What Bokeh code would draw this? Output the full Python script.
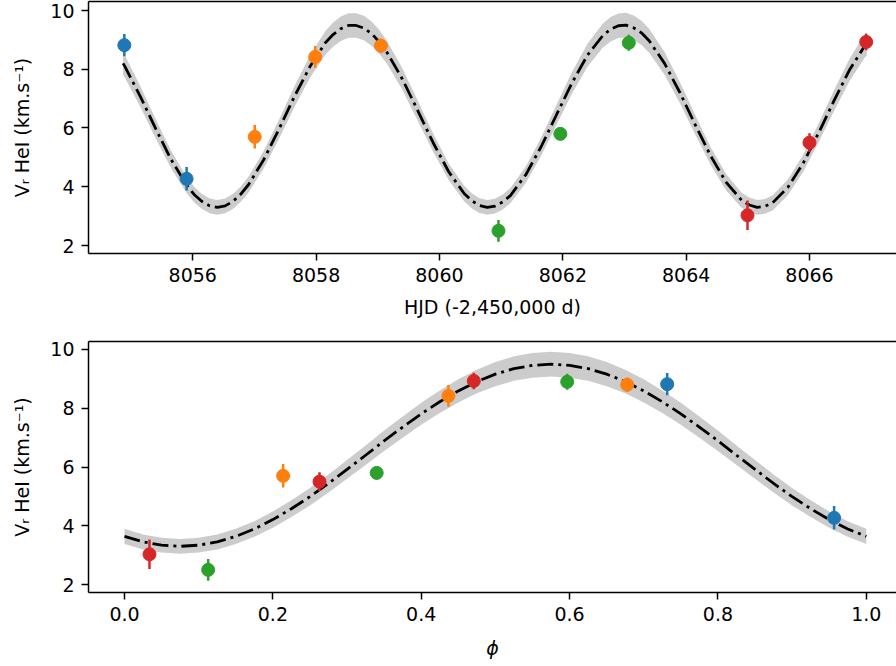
from bokeh.plotting import figure
from bokeh.layouts import column
from bokeh.models import ColumnDataSource, Range1d, FixedTicker, LinearAxis, NumeralTickFormatter
from bokeh.embed import file_html
from bokeh.resources import INLINE

hjd = [8054.89, 8055.90, 8057.005, 8057.985, 8059.05, 8060.957, 8061.96, 8063.07, 8064.995, 8066.00, 8066.92]
phase = [0.7316, 0.9566, 0.2139, 0.4367, 0.6777, 0.1128, 0.340, 0.5968, 0.0337, 0.2629, 0.4709]
vr = [8.82, 4.27, 5.70, 8.42, 8.80, 2.50, 5.80, 8.90, 3.03, 5.50, 8.93]
vr_err = [0.38, 0.40, 0.40, 0.37, 0.25, 0.37, 0.22, 0.27, 0.50, 0.32, 0.28]
night = ["n1", "n1", "n2", "n2", "n2", "n3", "n3", "n3", "n4", "n4", "n4"]
night_colors = {"n1": "#1f77b4", "n2": "#ff7f0e", "n3": "#2ca02c", "n4": "#d62728"}

# ---- orbital model curve ----
model_hjd = [8054.87, 8054.90, 8055.15, 8055.40, 8055.65, 8055.90, 8056.025, 8056.15, 8056.275, 8056.40,
             8056.525, 8056.65, 8056.775, 8056.90, 8057.15, 8057.40, 8057.65, 8057.90, 8058.15, 8058.275,
             8058.40, 8058.525, 8058.65, 8058.775, 8058.90, 8059.025, 8059.15, 8059.40, 8059.65, 8059.90,
             8060.15, 8060.40, 8060.525, 8060.65, 8060.775, 8060.90, 8061.025, 8061.15, 8061.40, 8061.65,
             8061.90, 8062.15, 8062.40, 8062.65, 8062.775, 8062.90, 8063.025, 8063.15, 8063.275, 8063.40,
             8063.65, 8063.90, 8064.15, 8064.40, 8064.65, 8064.90, 8065.025, 8065.15, 8065.275, 8065.40,
             8065.65, 8065.90, 8066.15, 8066.40, 8066.65, 8066.90, 8066.93]
model_vr_hjd = [8.20, 8.09, 7.07, 5.97, 4.92, 4.06, 3.73, 3.50, 3.35, 3.30,
                3.35, 3.50, 3.74, 4.06, 4.92, 5.97, 7.08, 8.09, 8.90, 9.18,
                9.38, 9.49, 9.49, 9.40, 9.21, 8.93, 8.57, 7.66, 6.58, 5.49,
                4.51, 3.77, 3.52, 3.36, 3.30, 3.34, 3.48, 3.70, 4.41, 5.37,
                6.46, 7.54, 8.48, 9.15, 9.36, 9.48, 9.50, 9.41, 9.24, 8.97,
                8.20, 7.20, 6.10, 5.04, 4.15, 3.54, 3.38, 3.30, 3.33, 3.45,
                3.98, 4.81, 5.84, 6.94, 7.98, 8.81, 8.86]
model_phase = [0.000, 0.025, 0.050, 0.075, 0.100, 0.125, 0.150, 0.175, 0.200, 0.225,
               0.250, 0.275, 0.300, 0.325, 0.350, 0.375, 0.400, 0.425, 0.450, 0.475,
               0.500, 0.525, 0.550, 0.575, 0.600, 0.625, 0.650, 0.675, 0.700, 0.725,
               0.750, 0.775, 0.800, 0.825, 0.850, 0.875, 0.900, 0.925, 0.950, 0.975, 1.000]
model_vr_phase = [3.64, 3.45, 3.34, 3.30, 3.34, 3.45, 3.64, 3.89, 4.21, 4.58,
                  4.99, 5.44, 5.92, 6.40, 6.89, 7.36, 7.81, 8.22, 8.59, 8.91,
                  9.16, 9.35, 9.46, 9.50, 9.46, 9.35, 9.16, 8.91, 8.59, 8.22,
                  7.81, 7.36, 6.89, 6.40, 5.92, 5.44, 4.99, 4.58, 4.21, 3.89, 3.64]
# uncertainty band half-width (about 0.25 at minimum, 0.42 at maximum)
band_hw_mid = 0.335
band_hw_slope = 0.0274
band_ref = 6.4

y_ticks = [2, 4, 6, 8, 10]
hjd_ticks = [8056, 8058, 8060, 8062, 8064, 8066]
phase_ticks = [0.0, 0.2, 0.4, 0.6, 0.8, 1.0]

FONT = "DejaVu Sans"
FS = "19px"


def band(vals):
    lo = [v - (band_hw_mid + band_hw_slope * (v - band_ref)) for v in vals]
    hi = [v + (band_hw_mid + band_hw_slope * (v - band_ref)) for v in vals]
    return lo, hi


def make_fig(xr, yr, height, mbt, mbb, xlabel, xticks, label_standoff, italic_label=False, fmt=None):
    p = figure(width=896, height=height, x_range=Range1d(*xr), y_range=Range1d(*yr),
               output_backend="svg", toolbar_location=None,
               min_border_left=88, min_border_right=0, min_border_top=mbt, min_border_bottom=mbb)
    p.grid.visible = False
    p.outline_line_color = None
    p.background_fill_color = "white"
    p.border_fill_color = "white"
    p.xaxis.ticker = FixedTicker(ticks=xticks)
    p.yaxis.ticker = FixedTicker(ticks=y_ticks)
    if fmt is not None:
        p.xaxis.formatter = fmt
    for ax in (p.xaxis[0], p.yaxis[0]):
        ax.axis_line_color = "black"
        ax.axis_line_width = 1.5
        ax.major_tick_line_color = "black"
        ax.major_tick_line_width = 1.5
        ax.major_tick_out = 7
        ax.major_tick_in = 0
        ax.minor_tick_line_color = None
        ax.major_label_text_font = FONT
        ax.major_label_text_font_size = FS
        ax.major_label_text_color = "black"
        ax.major_label_standoff = 7
        ax.axis_label_text_font = FONT
        ax.axis_label_text_font_size = FS
        ax.axis_label_text_color = "black"
        ax.axis_label_text_font_style = "normal"
    p.xaxis.axis_label = xlabel
    p.xaxis.axis_label_standoff = label_standoff
    if italic_label:
        p.xaxis.axis_label_text_font_style = "italic"
    p.yaxis.axis_label = "Vᵣ HeI (km.s⁻¹)"
    p.yaxis.axis_label_standoff = 14
    top = LinearAxis(ticker=FixedTicker(ticks=[]), major_tick_out=0, major_tick_in=0,
                     minor_tick_out=0, minor_tick_in=0, major_label_text_font_size="0px",
                     major_label_standoff=0, axis_line_color="black", axis_line_width=1.5)
    p.add_layout(top, "above")
    return p


def draw(p, x_obs, x_model, v_model):
    lo, hi = band(v_model)
    p.varea(x=x_model, y1=lo, y2=hi, fill_color="#cccccc")
    p.line(x_model, v_model, line_color="black", line_width=2.8, line_dash="16 5 3 5")
    src = ColumnDataSource(dict(
        x=x_obs, y=vr,
        lo=[v - e for v, e in zip(vr, vr_err)],
        hi=[v + e for v, e in zip(vr, vr_err)],
        color=[night_colors[n] for n in night]))
    p.segment(x0="x", y0="lo", x1="x", y1="hi", line_color="color", line_width=2.5, source=src)
    p.scatter(x="x", y="y", size=13, fill_color="color", line_color="color", source=src)


# top panel: frame y 1..253, x 88..896 (axes run past the right edge, as in the reference)
p1 = make_fig((8054.309, 8067.411), (1.728, 10.306), 320, 1, 67, "HJD (-2,450,000 d)", hjd_ticks, 11)
draw(p1, hjd, model_hjd, model_vr_hjd)

# bottom panel: frame y 341..592
p2 = make_fig((-0.04853, 1.04071), (1.728, 10.272), 345, 21, 73, "ϕ", phase_ticks, 13,
              italic_label=True, fmt=NumeralTickFormatter(format="0.0"))
draw(p2, phase, model_phase, model_vr_phase)

layout = column(p1, p2)

open("out.html", "w").write(file_html(layout, INLINE))
